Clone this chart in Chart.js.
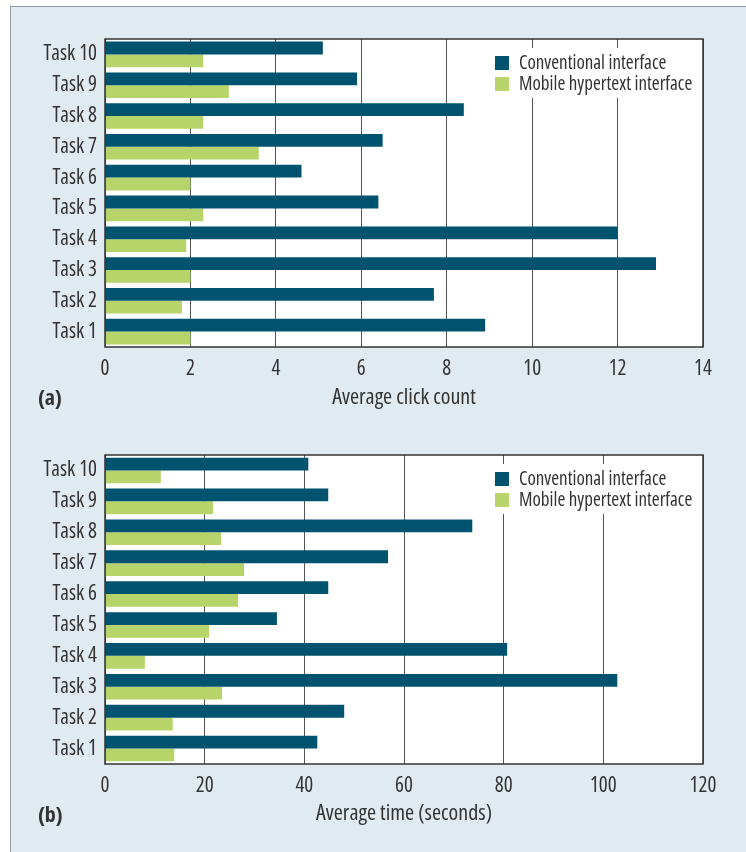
<!DOCTYPE html>
<html>
<head>
<meta charset="utf-8">
<script src="https://cdn.jsdelivr.net/npm/chart.js@4.4.1/dist/chart.umd.min.js"></script>
<style>
  html, body { margin: 0; padding: 0; background: #fff; }
  body { width: 746px; height: 852px; position: relative; overflow: hidden; }
  #panel {
    position: absolute; left: 10px; top: 6px; right: 0; bottom: 0;
    background: #dfebf1;
    border-left: 1px solid #8e9ba3; border-top: 1px solid #8e9ba3;
  }
  .wrap { position: absolute; left: 0; width: 746px; height: 426px; }
  .tag {
    position: absolute; left: 38px;
    font-family: 'Open Sans', sans-serif; font-stretch: condensed;
    font-weight: bold; font-size: 22px;
    color: #333; line-height: 22px;
  }
</style>
</head>
<body>
<div id="panel"></div>
<div class="wrap" style="top:0"><canvas id="clickChart"></canvas></div>
<div class="wrap" style="top:426px"><canvas id="timeChart"></canvas></div>
<div class="tag" style="top:385px">(a)</div>
<div class="tag" style="top:802px">(b)</div>
<script>
// categories, top to bottom
const taskLabels = ["Task 10", "Task 9", "Task 8", "Task 7", "Task 6", "Task 5", "Task 4", "Task 3", "Task 2", "Task 1"];

// (a) average click count
const clickConventional = [5.1, 5.9, 8.4, 6.5, 4.6, 6.4, 12.0, 12.9, 7.7, 8.9];
const clickMobile = [2.3, 2.9, 2.3, 3.6, 2.0, 2.3, 1.9, 2.0, 1.8, 2.0];

// (b) average time in seconds
const timeConventional = [40.8, 44.8, 73.7, 56.8, 44.8, 34.5, 80.7, 102.8, 48.0, 42.6];
const timeMobile = [11.2, 21.7, 23.3, 27.9, 26.7, 20.9, 8.0, 23.5, 13.6, 13.9];

const FAMILY = "'Open Sans', sans-serif";
const DARK = "#00536f";
const GREEN = "#b7d46b";

// "condensed" goes into the font shorthand through the weight slot
Chart.defaults.font.family = FAMILY;
Chart.defaults.font.size = 21;
Chart.defaults.font.weight = "condensed";
Chart.defaults.color = "#333";

// white plot background + frame
const plotFrame = {
    id: "plotFrame",
    beforeDraw(chart) {
        const { ctx, chartArea: a } = chart;
        ctx.save();
        ctx.fillStyle = "#fff";
        ctx.fillRect(a.left, a.top, a.right - a.left, a.bottom - a.top);
        ctx.restore();
    },
    afterDraw(chart) {
        const { ctx, chartArea: a } = chart;
        ctx.save();
        ctx.strokeStyle = "#333";
        ctx.lineWidth = 1.5;
        ctx.strokeRect(a.left, a.top, a.right - a.left, a.bottom - a.top);
        ctx.restore();
    }
};

// legend inside the plot, top right, on a white patch
const insideLegend = {
    id: "insideLegend",
    afterDraw(chart) {
        const { ctx, chartArea: a } = chart;
        const x = a.right - 215, y = a.top + 9;
        ctx.save();
        ctx.fillStyle = "#fff";
        ctx.fillRect(x, y, 206, 50);
        ctx.font = "condensed 19px " + FAMILY;
        ctx.textBaseline = "middle";
        chart.data.datasets.forEach((ds, i) => {
            const sy = y + 8 + i * 21;
            ctx.fillStyle = ds.backgroundColor;
            ctx.fillRect(x + 7, sy, 14, 14);
            ctx.fillStyle = "#333";
            ctx.fillText(ds.label, x + 31, sy + 8);
        });
        ctx.restore();
    }
};

function makeChart(id, conv, mobile, maxX, step, title, padTop, axisHeight, titlePad) {
    const ctx = document.getElementById(id).getContext("2d");
    return new Chart(ctx, {
        type: "bar",
        data: {
            labels: taskLabels,
            datasets: [
                { label: "Conventional interface", data: conv, backgroundColor: DARK },
                { label: "Mobile hypertext interface", data: mobile, backgroundColor: GREEN }
            ]
        },
        options: {
            indexAxis: "y",
            responsive: true,
            maintainAspectRatio: false,
            animation: false,
            categoryPercentage: 0.83,
            barPercentage: 1.0,
            layout: { padding: { top: padTop, right: 43, left: 0, bottom: 0 } },
            plugins: { legend: { display: false }, tooltip: { enabled: false } },
            scales: {
                x: {
                    min: 0,
                    max: maxX,
                    ticks: { stepSize: step, padding: 9, color: "#333" },
                    grid: { color: "#555", lineWidth: 1, drawTicks: false },
                    border: { display: false },
                    title: {
                        display: true, text: title, color: "#333",
                        font: { size: 22 },
                        padding: { top: 0, bottom: titlePad }
                    },
                    afterFit(scale) { scale.height = axisHeight; }
                },
                y: {
                    ticks: { padding: 8, color: "#333" },
                    grid: { display: false, drawTicks: false },
                    border: { display: false },
                    afterFit(scale) { scale.width = 105; }
                }
            }
        },
        plugins: [plotFrame, insideLegend]
    });
}

makeChart("clickChart", clickConventional, clickMobile, 14, 2, "Average click count", 39, 79, 15);
makeChart("timeChart", timeConventional, timeMobile, 120, 20, "Average time (seconds)", 29, 88, 25);
</script>
</body>
</html>
